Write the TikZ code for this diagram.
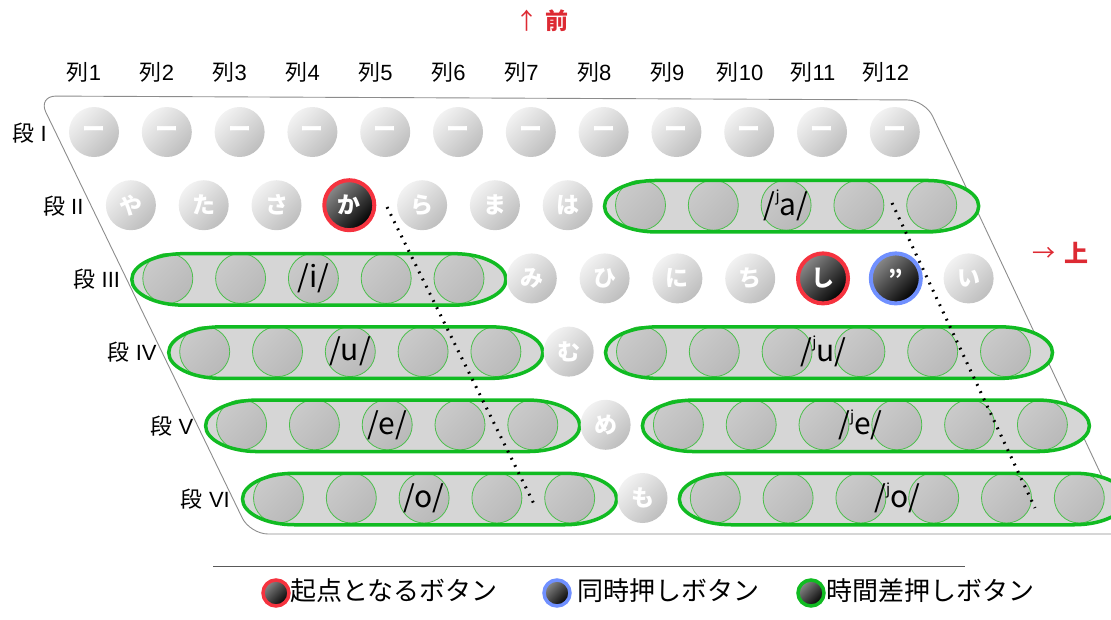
\documentclass[tikz,border=0pt]{standalone}
\usepackage{fontspec}
\setmainfont{Noto Sans CJK JP}
\newfontfamily\lat{Liberation Sans}
\definecolor{lightA}{HTML}{F2F2F2}
\definecolor{lightB}{HTML}{BEBEBE}
\definecolor{darkA}{HTML}{8A8A8A}
\definecolor{darkB}{HTML}{000000}
\definecolor{grpA}{HTML}{CACACA}
\definecolor{grpB}{HTML}{B9B9B9}
\definecolor{grpfillc}{HTML}{D6D6D6}
\definecolor{grnline}{HTML}{11BB22}
\definecolor{grnthin}{HTML}{4CBF4C}
\definecolor{redring}{HTML}{F5333F}
\definecolor{bluering}{HTML}{7090FF}
\definecolor{outl}{HTML}{8C8C8C}
\definecolor{mark}{HTML}{DD2A33}
\newcommand\btn[4]{%
  \pgfmathsetmacro\bx{94+36.9*#2+72.8*#3}%
  \pgfmathsetmacro\by{132+73.2*#2}%
  \node[#1] (b#2-#3) at (\bx,\by) {#4};}
\newcommand\grp[4]{%
  \pgfmathsetmacro\gL{94+36.9*#1+72.8*#2-36}%
  \pgfmathsetmacro\gR{94+36.9*#1+72.8*#3+47}%
  \pgfmathsetmacro\gY{132+73.2*#1+1}%
  \pgfmathsetmacro\gT{\gY-25.75}%
  \pgfmathsetmacro\gB{\gY+25.75}%
  \fill[grpfillc] ({\gL+52},\gT) -- ({\gR-52},\gT) arc[start angle=90,end angle=-90,x radius=52pt,y radius=25.75pt] -- ({\gL+52},\gB) arc[start angle=270,end angle=90,x radius=52pt,y radius=25.75pt] -- cycle;
  \foreach \c in {#2,...,#3} {\btn{grpbtn}{#1}{\c}{}}
  \draw[grpline] ({\gL+52},\gT) -- ({\gR-52},\gT) arc[start angle=90,end angle=-90,x radius=52pt,y radius=25.75pt] -- ({\gL+52},\gB) arc[start angle=270,end angle=90,x radius=52pt,y radius=25.75pt] -- cycle;
  \pgfmathsetmacro\lx{94+36.9*#1+72.8*(#2+#3)/2}%
  \pgfmathsetmacro\ly{132+73.2*#1}%
  \node[phon] (g#1-#2) at (\lx,\ly) {#4};}
\newcommand\sj{\raisebox{0.45em}{\fontsize{15}{15}\selectfont j}}
\begin{document}
\begin{tikzpicture}[x=1pt,y=-1pt,
  kana/.style={circle, minimum size=50pt, inner sep=0pt, text=white,
    font=\fontsize{23}{23}\selectfont\bfseries,
    top color=lightA, bottom color=lightB, shading angle=45},
  darkbtn/.style={circle, minimum size=50pt, inner sep=0pt, text=white,
    font=\fontsize{23}{23}\selectfont\bfseries,
    top color=darkA, bottom color=darkB, shading angle=45, line width=4pt},
  startbtn/.style={darkbtn, draw=redring},
  simulbtn/.style={darkbtn, draw=bluering},
  delaybtn/.style={darkbtn, draw=grnline},
  grpbtn/.style={circle, minimum size=50pt, inner sep=0pt,
    top color=grpA, bottom color=grpB, shading angle=45, draw=grnthin, line width=0.8pt},
  grpline/.style={draw=grnline, line width=3.5pt},
  phon/.style={font=\fontsize{30}{30}\selectfont, inner sep=0pt},
  lbl/.style={font=\lat\fontsize{22}{22}\selectfont, inner sep=0pt},
  lgtext/.style={font=\fontsize{26}{26}\selectfont, inner sep=0pt, anchor=west},
  dotline/.style={line width=3pt, dash pattern=on 1.8pt off 6.2pt},
  redmark/.style={text=mark, font=\fontsize{23}{23}\selectfont, inner sep=0pt}
]
\useasboundingbox (0,0) rectangle (1111,619);
% outline
\draw[outl, line width=0.9pt, rounded corners=18pt] (38,96) -- (925,100) -- (1129,534) -- (250,534) -- cycle;
% top marks
\node[redmark] (up) at (527,21) {↑};
\node[redmark, font=\fontsize{23}{23}\selectfont\bfseries] (mae) at (557,21) {前};
\node[redmark] (right) at (1044,254) {→};
\node[redmark, font=\fontsize{24}{24}\selectfont\bfseries] (ue) at (1076,253) {上};
% column labels
\foreach \i in {1,...,12} {
  \pgfmathsetmacro\cx{84+72.9*(\i-1)}
  \node[lbl] (col\i) at (\cx,72) {{\rmfamily 列}\i};
}
% row labels
\foreach \r/\t in {0/I,1/II,2/III,3/IV,4/V,5/VI} {
  \pgfmathsetmacro\rx{47+36.6*\r}
  \pgfmathsetmacro\ry{133+73.2*\r}
  \node[lbl, anchor=east] (row\r) at (\rx,\ry) {{\rmfamily 段} \t};
}
% row I
\foreach \c in {0,...,11} {\btn{kana}{0}{\c}{ー}}
% row II
\btn{kana}{1}{0}{や}
\btn{kana}{1}{1}{た}
\btn{kana}{1}{2}{さ}
\btn{startbtn}{1}{3}{か}
\btn{kana}{1}{4}{ら}
\btn{kana}{1}{5}{ま}
\btn{kana}{1}{6}{は}
\grp{1}{7}{11}{/\sj a/}
% row III
\grp{2}{0}{4}{/i/}
\btn{kana}{2}{5}{み}
\btn{kana}{2}{6}{ひ}
\btn{kana}{2}{7}{に}
\btn{kana}{2}{8}{ち}
\btn{startbtn}{2}{9}{し}
\btn{simulbtn}{2}{10}{”}
\btn{kana}{2}{11}{い}
% row IV
\grp{3}{0}{4}{/u/}
\btn{kana}{3}{5}{む}
\grp{3}{6}{11}{/\sj u/}
% row V
\grp{4}{0}{4}{/e/}
\btn{kana}{4}{5}{め}
\grp{4}{6}{11}{/\sj e/}
% row VI
\grp{5}{0}{4}{/o/}
\btn{kana}{5}{5}{も}
\grp{5}{6}{11}{/\sj o/}
% dotted guides
\coordinate (d1a) at (387,207);
\coordinate (d1b) at (536,508);
\coordinate (d2a) at (892,203);
\coordinate (d2b) at (1035,508);
\draw[dotline] (d1a) -- (d1b);
\draw[dotline] (d2a) -- (d2b);
% legend
\coordinate (lgl) at (213,566);
\coordinate (lgr) at (965,566);
\draw[black!65, line width=1pt] (lgl) -- (lgr);
\node[startbtn, minimum size=26pt, line width=3.5pt] (lg1) at (276,593) {};
\node[lgtext] (lt1) at (290,591) {起点となるボタン};
\node[simulbtn, minimum size=26pt, line width=3.5pt] (lg2) at (557,593) {};
\node[lgtext] (lt2) at (577,591) {同時押しボタン};
\node[delaybtn, minimum size=26pt, line width=3.5pt] (lg3) at (811,593) {};
\node[lgtext] (lt3) at (826,591) {時間差押しボタン};
\end{tikzpicture}
\end{document}
